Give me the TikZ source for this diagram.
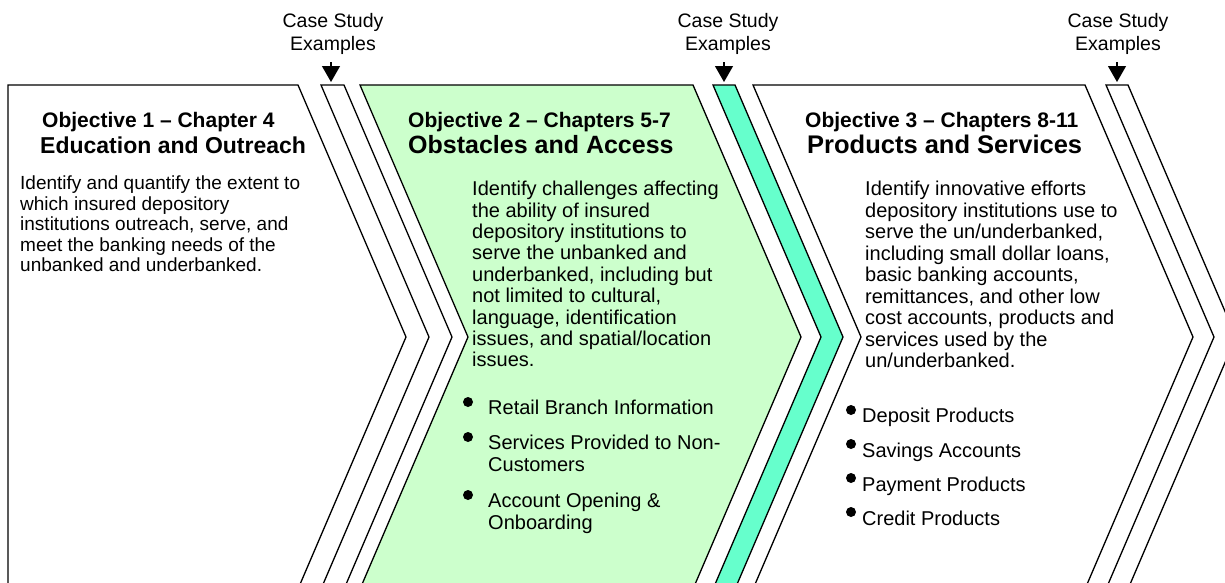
\documentclass[tikz,border=0pt]{standalone}
\usepackage{fontspec}
\setmainfont{Liberation Sans}
\usetikzlibrary{arrows.meta}
\definecolor{objgreen}{HTML}{CCFFCC}
\definecolor{stripteal}{HTML}{66FFCC}
\begin{document}
\begin{tikzpicture}[x=1pt,y=-1pt,
  outline/.style={draw=black, line width=1.3pt, line join=miter},
  objtext/.style={font=\bfseries\fontsize{21}{24}\selectfont, anchor=base west, inner sep=0pt},
  titletext/.style={font=\bfseries\fontsize{#1}{#1}\selectfont, anchor=base west, inner sep=0pt},
  bodytext/.style 2 args={font=\fontsize{#1}{#2}\selectfont, anchor=north west, align=left, inner sep=0pt},
  itemtext/.style={font=\fontsize{20}{21.3}\selectfont, anchor=north west, align=left, inner sep=0pt},
  bulletmark/.style={circle, fill=black, inner sep=0pt, minimum size=10pt},
  casetext/.style={font=\fontsize{19.5}{23}\selectfont, align=center, inner sep=0pt},
  casearrow/.style={line width=1.2pt, -{Triangle[width=18pt,length=16pt]}}
]
\useasboundingbox (0,0) rectangle (1225,582);
\clip (0,0) rectangle (1225,582);

% shapes
\path[outline, fill=white] (8,85) -- (298,85) -- (406,337) -- (298,589) -- (8,589) -- cycle;
\path[outline, fill=white] (321,85) -- (344,85) -- (452,337) -- (344,589) -- (321,589) -- (429,337) -- cycle;
\path[outline, fill=objgreen] (360,85) -- (693,85) -- (801,337) -- (693,589) -- (360,589) -- (468,337) -- cycle;
\path[outline, fill=stripteal] (713,85) -- (735,85) -- (843,337) -- (735,589) -- (713,589) -- (821,337) -- cycle;
\path[outline, fill=white] (753,85) -- (1085,85) -- (1193,337) -- (1085,589) -- (753,589) -- (861,337) -- cycle;
\path[outline, fill=white] (1106,85) -- (1128,85) -- (1236,337) -- (1128,589) -- (1106,589) -- (1214,337) -- cycle;

% case study labels and arrows
\node[casetext] (cs1) at (333,34) {Case Study\\Examples};
\node[casetext] (cs2) at (728,34) {Case Study\\Examples};
\node[casetext] (cs3) at (1118,34) {Case Study\\Examples};
\coordinate (a1s) at (331,62);
\coordinate (a2s) at (724,62);
\coordinate (a3s) at (1117,62);
\coordinate (s1top) at (331,82);
\coordinate (s2top) at (724,82);
\coordinate (s3top) at (1117,82);
\draw[casearrow] (a1s) -- (s1top);
\draw[casearrow] (a2s) -- (s2top);
\draw[casearrow] (a3s) -- (s3top);

% objective 1
\node[objtext] (o1) at (42,127) {Objective 1 – Chapter 4};
\node[titletext=23] (t1) at (40,153) {Education and Outreach};
\node[bodytext={19}{20.4}] (b1) at (20,176) {Identify and quantify the extent to\\which insured depository\\institutions outreach, serve, and\\meet the banking needs of the\\unbanked and underbanked.};

% objective 2
\node[objtext] (o2) at (408,127) {Objective 2 – Chapters 5-7};
\node[titletext=25] (t2) at (408,153) {Obstacles and Access};
\node[bodytext={20}{21.4}] (b2) at (472,181) {Identify challenges affecting\\the ability of insured\\depository institutions to\\serve the unbanked and\\underbanked, including but\\not limited to cultural,\\language, identification\\issues, and spatial/location\\issues.};
\node[bulletmark] (m21) at (468,402) {};
\node[itemtext] (i21) at (488,400) {Retail Branch Information};
\node[bulletmark] (m22) at (468,437) {};
\node[itemtext] (i22) at (488,435) {Services Provided to Non-\\Customers};
\node[bulletmark] (m23) at (468,495) {};
\node[itemtext] (i23) at (488,493) {Account Opening \&\\Onboarding};

% objective 3
\node[objtext] (o3) at (805,127) {Objective 3 – Chapters 8-11};
\node[titletext=25.5] (t3) at (807,153) {Products and Services};
\node[bodytext={20}{21.5}] (b3) at (865,181) {Identify innovative efforts\\depository institutions use to\\serve the un/underbanked,\\including small dollar loans,\\basic banking accounts,\\remittances, and other low\\cost accounts, products and\\services used by the\\un/underbanked.};
\node[bulletmark] (m31) at (851,410) {};
\node[itemtext] (i31) at (862,408) {Deposit Products};
\node[bulletmark] (m32) at (851,444) {};
\node[itemtext] (i32) at (862,443) {Savings Accounts};
\node[bulletmark] (m33) at (851,478) {};
\node[itemtext] (i33) at (862,477) {Payment Products};
\node[bulletmark] (m34) at (851,512) {};
\node[itemtext] (i34) at (862,511) {Credit Products};
\end{tikzpicture}
\end{document}
